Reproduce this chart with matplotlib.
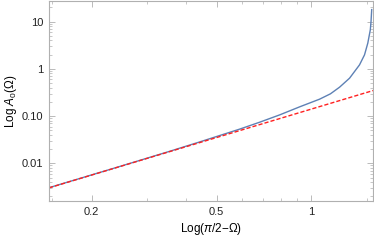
import matplotlib
matplotlib.use('Agg')
import matplotlib.pyplot as plt
from matplotlib.ticker import FixedLocator, FixedFormatter, NullFormatter

plt.rcParams['font.family'] = ['Liberation Sans', 'DejaVu Sans']
plt.rcParams['mathtext.fontset'] = 'custom'
plt.rcParams['mathtext.rm'] = 'Liberation Sans'
plt.rcParams['mathtext.it'] = 'Liberation Sans:italic'

# blue curve A0 (x = pi/2 - Omega)
x_a0 = [0.1464, 0.2464, 0.35, 0.4418, 0.592, 0.685, 0.793, 0.918, 1.062,
        1.15, 1.23, 1.323, 1.423, 1.476, 1.512, 1.54, 1.548, 1.556]
y_a0 = [0.00304, 0.0086, 0.0175, 0.0284, 0.053, 0.0742, 0.106, 0.157, 0.228,
        0.296, 0.41, 0.635, 1.215, 1.98, 3.51, 6.7, 10.0, 18.0]

# red dashed asymptote (straight line on log-log)
x_asym = [0.1464, 1.5708]
y_asym = [0.00302, 0.347]

xticks = [0.2, 0.5, 1]
xticklabels = ['0.2', '0.5', '1']
yticks = [0.01, 0.1, 1, 10]
yticklabels = ['0.01', '0.10', '1', '10']

fig = plt.figure(figsize=(3.74, 2.41), dpi=100)
ax = fig.add_axes([0.131, 0.166, 0.865, 0.828])

ax.plot(x_a0, y_a0, color='#5E81B5', lw=1.0)
ax.plot(x_asym, y_asym, color='#FF2020', lw=1.0, ls=(0, (3, 1.5)))

ax.set_xscale('log')
ax.set_yscale('log')
ax.set_xlim(0.1464, 1.565)
ax.set_ylim(0.00159, 26.8)

ax.xaxis.set_major_locator(FixedLocator(xticks))
ax.xaxis.set_major_formatter(FixedFormatter(xticklabels))
ax.xaxis.set_minor_locator(FixedLocator([0.15, 0.3, 0.4, 0.6, 0.7, 0.8, 0.9, 1.5]))
ax.xaxis.set_minor_formatter(NullFormatter())
ax.yaxis.set_major_locator(FixedLocator(yticks))
ax.yaxis.set_major_formatter(FixedFormatter(yticklabels))
ax.yaxis.set_minor_locator(FixedLocator(
    [m * 10.0 ** e for e in range(-3, 2) for m in range(2, 10)]))
ax.yaxis.set_minor_formatter(NullFormatter())

for s in ax.spines.values():
    s.set_color('#b0b0b0')
    s.set_linewidth(0.8)
ax.tick_params(which='both', direction='in', top=True, right=True,
               color='#b0b0b0', labelsize=8, labelcolor='#222222', pad=4)
ax.tick_params(which='major', length=4, width=0.6)
ax.tick_params(which='minor', length=2, width=0.5)

ax.set_xlabel(r'Log($\mathit{\pi}$/2$-\Omega$)', fontsize=8.5, labelpad=3)
ax.set_ylabel(r'Log $\mathit{A}_0(\Omega)$', fontsize=8.5, labelpad=2)

fig.savefig('out.png', dpi=100)
